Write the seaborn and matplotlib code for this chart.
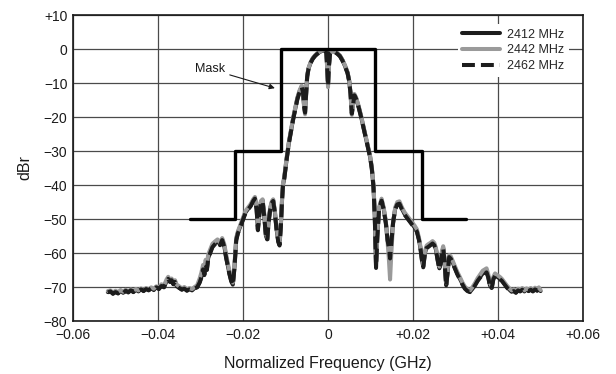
import matplotlib
matplotlib.use("Agg")
import matplotlib.pyplot as plt
import pandas as pd
import seaborn as sns

# Frequency offset grid (GHz) shared by the three channel captures
FREQ = [
    -0.0518, -0.0512, -0.0506, -0.0500, -0.0494, -0.0488, -0.0482, -0.0476, -0.0470, -0.0464,
    -0.0458, -0.0452, -0.0446, -0.0440, -0.0434, -0.0428, -0.0422, -0.0416, -0.0410, -0.0404,
    -0.0398, -0.0392, -0.0386, -0.0380, -0.0376, -0.0372, -0.0368, -0.0364, -0.0360, -0.0356,
    -0.0350, -0.0344, -0.0338, -0.0332, -0.0326, -0.0320, -0.0314, -0.0308, -0.0302, -0.0298,
    -0.0294, -0.0291, -0.0288, -0.0285, -0.0282, -0.0278, -0.0272, -0.0266, -0.0260, -0.0254,
    -0.0249, -0.0244, -0.0240, -0.0236, -0.0232, -0.0228, -0.0224, -0.0220, -0.0216, -0.0212,
    -0.0206, -0.0200, -0.0194, -0.0188, -0.0182, -0.0176, -0.0172, -0.0168, -0.0165, -0.0162,
    -0.0158, -0.0154, -0.0150, -0.0146, -0.0143, -0.0140, -0.0136, -0.0132, -0.0129, -0.0125,
    -0.0121, -0.0117, -0.0114, -0.0111, -0.0108, -0.0106, -0.0103, -0.0100, -0.0097, -0.0092,
    -0.0087, -0.0082, -0.0077, -0.0072, -0.0067, -0.0062, -0.0059, -0.0056, -0.0054, -0.0052,
    -0.0049, -0.0046, -0.0041, -0.0036, -0.0031, -0.0026, -0.0020, -0.0014, -0.0008, -0.0004,
    -0.0002, 0.0000, 0.0002, 0.0005, 0.0010, 0.0016, 0.0022, 0.0028, 0.0034, 0.0040,
    0.0046, 0.0050, 0.0053, 0.0056, 0.0059, 0.0062, 0.0066, 0.0072, 0.0078, 0.0083,
    0.0088, 0.0094, 0.0099, 0.0103, 0.0107, 0.0110, 0.0113, 0.0116, 0.0120, 0.0126,
    0.0131, 0.0136, 0.0140, 0.0143, 0.0146, 0.0149, 0.0153, 0.0158, 0.0163, 0.0168,
    0.0174, 0.0180, 0.0186, 0.0192, 0.0198, 0.0204, 0.0209, 0.0214, 0.0218, 0.0221,
    0.0224, 0.0228, 0.0232, 0.0236, 0.0241, 0.0246, 0.0250, 0.0254, 0.0258, 0.0262,
    0.0265, 0.0268, 0.0271, 0.0274, 0.0278, 0.0281, 0.0285, 0.0289, 0.0294, 0.0299,
    0.0304, 0.0310, 0.0316, 0.0322, 0.0328, 0.0334, 0.0340, 0.0346, 0.0352, 0.0358,
    0.0364, 0.0369, 0.0373, 0.0377, 0.0381, 0.0385, 0.0389, 0.0393, 0.0398, 0.0404,
    0.0409, 0.0415, 0.0421, 0.0427, 0.0432, 0.0437, 0.0442, 0.0447, 0.0452, 0.0457,
    0.0462, 0.0467, 0.0472, 0.0477, 0.0482, 0.0487, 0.0492, 0.0496, 0.0500,
]

# Relative power (dBr) per channel
DBR_2412 = [
    -71.5, -71.2, -72.0, -71.4, -71.9, -71.1, -71.7, -71.0, -71.6, -70.9,
    -71.5, -70.8, -71.3, -70.6, -71.2, -70.5, -71.0, -70.3, -70.9, -70.0,
    -70.6, -69.6, -70.1, -68.3, -67.4, -68.5, -67.9, -69.2, -68.4, -69.8,
    -70.2, -70.8, -70.4, -71.1, -70.6, -71.0, -70.3, -70.0, -68.5, -67.0,
    -64.5, -66.5, -63.0, -65.0, -61.5, -60.0, -58.0, -57.2, -56.5, -57.5,
    -56.0, -58.0, -61.0, -63.5, -66.0, -68.0, -69.3, -64.0, -56.0, -54.0,
    -52.0, -50.0, -48.0, -47.0, -46.0, -44.5, -43.8, -47.0, -53.0, -49.0,
    -45.0, -44.5, -49.0, -55.0, -56.0, -51.0, -47.0, -45.0, -44.5, -48.0,
    -53.0, -56.5, -57.5, -52.0, -44.0, -40.0, -38.0, -35.0, -32.0, -27.5,
    -24.0, -20.5, -17.5, -14.5, -12.5, -11.0, -12.5, -17.0, -18.5, -14.0,
    -8.0, -5.8, -4.0, -2.8, -2.0, -1.4, -0.9, -0.5, -0.3, -1.0,
    -5.0, -10.5, -5.0, -1.0, -0.5, -0.8, -1.3, -2.0, -3.3, -5.0,
    -7.0, -9.5, -13.0, -18.8, -16.0, -13.5, -14.5, -17.0, -20.0, -22.8,
    -25.5, -29.0, -31.7, -35.0, -40.5, -49.0, -64.0, -55.0, -47.0, -44.4,
    -47.0, -51.0, -56.0, -58.0, -61.0, -57.0, -51.0, -47.0, -45.5, -45.3,
    -47.0, -48.5, -49.5, -50.5, -51.5, -52.5, -53.5, -56.0, -59.0, -62.0,
    -64.0, -60.0, -58.3, -58.0, -57.5, -57.0, -57.5, -59.0, -62.0, -64.5,
    -63.0, -60.0, -58.5, -62.0, -69.5, -66.0, -61.0, -61.5, -63.0, -64.5,
    -66.0, -67.5, -69.0, -70.3, -71.0, -71.4, -70.5, -69.3, -68.0, -67.0,
    -66.0, -65.8, -65.5, -67.0, -69.5, -70.3, -67.5, -66.5, -67.0, -67.5,
    -68.0, -69.0, -70.0, -70.8, -71.4, -71.0, -71.6, -70.8, -71.2, -70.6,
    -71.3, -70.7, -71.1, -70.6, -71.2, -70.5, -71.0, -70.4, -71.2,
]

DBR_2442 = [
    -71.2, -71.0, -71.6, -71.1, -71.5, -70.9, -71.4, -70.8, -71.3, -70.7,
    -71.1, -70.6, -71.0, -70.4, -70.9, -70.3, -70.7, -70.1, -70.5, -69.8,
    -70.2, -69.2, -69.6, -67.8, -67.0, -68.0, -67.5, -68.7, -68.0, -69.3,
    -69.8, -70.4, -70.0, -70.7, -70.3, -70.6, -70.0, -69.5, -67.5, -65.8,
    -63.5, -65.0, -62.0, -63.5, -60.5, -59.2, -57.3, -56.6, -56.0, -57.0,
    -55.6, -57.4, -60.2, -62.8, -65.2, -67.4, -68.7, -63.2, -55.5, -53.6,
    -51.6, -49.6, -47.6, -46.6, -45.6, -44.2, -43.5, -46.5, -52.4, -48.6,
    -44.7, -44.2, -48.5, -54.4, -55.5, -50.6, -46.6, -44.7, -44.2, -47.6,
    -52.5, -56.0, -57.0, -51.5, -43.6, -39.6, -37.6, -34.6, -31.6, -27.2,
    -23.7, -20.2, -17.2, -14.2, -12.2, -10.8, -12.8, -17.6, -19.2, -14.6,
    -7.8, -5.6, -3.9, -2.7, -1.9, -1.3, -0.8, -0.4, -0.3, -1.2,
    -5.6, -11.2, -5.5, -1.1, -0.5, -0.7, -1.2, -1.9, -3.2, -4.8,
    -6.8, -9.3, -13.5, -19.4, -16.4, -13.2, -14.2, -16.7, -19.7, -22.5,
    -25.2, -28.7, -31.4, -34.7, -40.0, -48.5, -63.0, -54.5, -46.6, -44.0,
    -46.6, -50.6, -56.5, -61.5, -67.8, -60.0, -51.5, -46.6, -45.0, -44.8,
    -46.6, -48.0, -49.0, -50.0, -51.0, -52.0, -53.0, -55.5, -58.5, -61.4,
    -63.5, -59.6, -57.8, -57.4, -57.0, -56.5, -57.0, -58.5, -61.5, -64.0,
    -62.5, -59.5, -58.0, -61.5, -68.8, -65.5, -60.6, -61.0, -62.5, -64.0,
    -65.5, -67.0, -68.6, -69.9, -70.6, -71.0, -70.0, -68.8, -67.4, -66.3,
    -65.2, -64.8, -64.5, -66.2, -68.8, -69.8, -67.0, -66.0, -66.5, -67.0,
    -67.6, -68.6, -69.6, -70.4, -71.0, -70.7, -71.2, -70.5, -70.9, -70.3,
    -71.0, -70.4, -70.8, -70.3, -70.9, -70.2, -70.7, -70.1, -70.9,
]

DBR_2462 = [
    -71.6, -71.3, -71.9, -71.5, -71.8, -71.2, -71.8, -71.1, -71.5, -71.0,
    -71.4, -70.9, -71.2, -70.7, -71.1, -70.6, -70.9, -70.4, -70.8, -70.1,
    -70.5, -69.7, -70.0, -68.4, -67.6, -68.4, -68.0, -69.1, -68.5, -69.7,
    -70.3, -70.7, -70.5, -71.0, -70.7, -70.9, -70.4, -70.1, -68.7, -67.2,
    -64.8, -66.3, -63.3, -64.8, -61.8, -60.3, -58.3, -57.4, -56.7, -57.7,
    -56.2, -58.2, -61.2, -63.7, -66.2, -68.2, -69.5, -64.2, -56.3, -54.2,
    -52.2, -50.2, -48.2, -47.2, -46.2, -44.7, -44.0, -47.2, -53.3, -49.2,
    -45.2, -44.7, -49.3, -55.3, -56.3, -51.2, -47.2, -45.2, -44.7, -48.2,
    -53.3, -56.8, -57.8, -52.3, -44.2, -40.2, -38.2, -35.2, -32.2, -27.7,
    -24.2, -20.7, -17.7, -14.7, -12.7, -11.2, -12.6, -17.2, -18.7, -14.2,
    -8.1, -5.9, -4.1, -2.9, -2.1, -1.5, -1.0, -0.6, -0.4, -1.1,
    -5.2, -10.8, -5.2, -1.1, -0.6, -0.9, -1.4, -2.1, -3.4, -5.1,
    -7.1, -9.6, -13.2, -19.0, -16.2, -13.6, -14.6, -17.1, -20.1, -22.9,
    -25.6, -29.1, -31.8, -35.2, -40.8, -49.4, -64.4, -55.3, -47.2, -44.6,
    -47.2, -51.2, -56.2, -58.3, -61.6, -57.3, -51.2, -47.2, -45.7, -45.5,
    -47.2, -48.7, -49.7, -50.7, -51.7, -52.7, -53.7, -56.2, -59.2, -62.2,
    -64.2, -60.2, -58.5, -58.2, -57.7, -57.2, -57.7, -59.2, -62.2, -64.7,
    -63.2, -60.2, -58.7, -62.2, -69.7, -66.2, -61.2, -61.7, -63.2, -64.7,
    -66.2, -67.7, -69.2, -70.5, -71.2, -71.5, -70.7, -69.5, -68.2, -67.2,
    -66.2, -66.0, -65.7, -67.2, -69.7, -70.5, -67.7, -66.7, -67.2, -67.7,
    -68.2, -69.2, -70.2, -71.0, -71.5, -71.2, -71.7, -71.0, -71.3, -70.8,
    -71.4, -70.9, -71.2, -70.8, -71.3, -70.7, -71.1, -70.6, -71.3,
]

# Spectral mask corners
MASK_FREQ = [-0.0325, -0.022, -0.022, -0.011, -0.011, 0.011, 0.011, 0.022, 0.022, 0.0325]
MASK_DBR = [-50, -50, -30, -30, 0, 0, -30, -30, -50, -50]

CHANNELS = ["2412 MHz", "2442 MHz", "2462 MHz"]
X_TICKS = [-0.06, -0.04, -0.02, 0, 0.02, 0.04, 0.06]
X_TICK_LABELS = ["\u22120.06", "\u22120.04", "\u22120.02", "0", "+0.02", "+0.04", "+0.06"]
Y_TICKS = [10, 0, -10, -20, -30, -40, -50, -60, -70, -80]
Y_TICK_LABELS = ["+10", "0", "\u221210", "\u221220", "\u221230", "\u221240",
                 "\u221250", "\u221260", "\u221270", "\u221280"]

sns.set_theme(style="white")
plt.rcParams["font.family"] = ["Liberation Sans", "DejaVu Sans"]

fig = plt.figure(figsize=(6.16, 3.74), dpi=100)
ax = fig.add_axes([0.1185, 0.1417, 0.828, 0.818])

spectra = pd.DataFrame({
    "freq": FREQ * 3,
    "dbr": DBR_2412 + DBR_2442 + DBR_2462,
    "channel": [CHANNELS[0]] * len(FREQ) + [CHANNELS[1]] * len(FREQ) + [CHANNELS[2]] * len(FREQ),
})
mask = pd.DataFrame({"freq": MASK_FREQ, "dbr": MASK_DBR})

styles = {
    CHANNELS[0]: dict(color="#1c1c1c", linestyle="-", zorder=3),
    CHANNELS[1]: dict(color="#9a9a9a", linestyle="-", zorder=4),
    CHANNELS[2]: dict(color="#1c1c1c", linestyle=(0, (3.2, 1.5)), zorder=5),
}
for ch in CHANNELS:
    sub = spectra[spectra["channel"] == ch]
    sns.lineplot(data=sub, x="freq", y="dbr", ax=ax, sort=False, estimator=None,
                 linewidth=2.9, label=ch, **styles[ch])

sns.lineplot(data=mask, x="freq", y="dbr", ax=ax, sort=False, estimator=None,
             color="black", linewidth=2.4, zorder=6, legend=False)

ax.set_xlim(-0.06, 0.06)
ax.set_ylim(-80, 10)
ax.set_xticks(X_TICKS)
ax.set_xticklabels(X_TICK_LABELS)
ax.set_yticks(Y_TICKS)
ax.set_yticklabels(Y_TICK_LABELS)
ax.tick_params(axis="both", length=0, labelsize=10, colors="#1a1a1a")
ax.tick_params(axis="x", pad=5)
ax.tick_params(axis="y", pad=4)
ax.grid(True, color="#4a4a4a", linewidth=0.9, zorder=0)
ax.set_axisbelow(True)
for s in ax.spines.values():
    s.set_color("#1a1a1a")
    s.set_linewidth(1.2)
    s.set_visible(True)

ax.set_xlabel("Normalized Frequency (GHz)", fontsize=11.5, color="#1a1a1a", labelpad=10)
ax.set_ylabel("dBr", fontsize=11.5, color="#1a1a1a", labelpad=8)

ax.annotate("Mask", xy=(-0.0125, -11.5), xytext=(-0.0242, -5.9),
            ha="right", va="center", fontsize=9, color="#1a1a1a",
            arrowprops=dict(arrowstyle="-|>", color="#1a1a1a", lw=0.8,
                            mutation_scale=8, shrinkA=1, shrinkB=0))

handles, labels = ax.get_legend_handles_labels()
leg = ax.legend(handles, labels, loc="upper right", bbox_to_anchor=(0.972, 0.97),
                frameon=True, fancybox=False, fontsize=9, handlelength=3.0,
                handletextpad=0.6, labelspacing=0.3, borderpad=0.35,
                borderaxespad=0.0)
leg.get_frame().set_facecolor("white")
leg.get_frame().set_edgecolor("none")
leg.get_frame().set_alpha(1.0)
leg.set_zorder(10)

fig.savefig("out.png", dpi=100, facecolor="white")
